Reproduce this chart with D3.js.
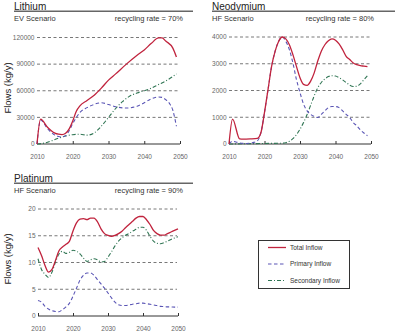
<!DOCTYPE html>
<html>
<head>
<meta charset="utf-8">
<script src="https://cdn.jsdelivr.net/npm/d3@7.9.0/dist/d3.min.js"></script>
<style>
  body { margin: 0; background: #fff; }
  svg { display: block; font-family: "Liberation Sans", Arial, Helvetica, sans-serif; }
</style>
</head>
<body>
<svg id="chart" width="402" height="334"></svg>
<script>
// ---- data ----
const decadeTicks = [2010, 2020, 2030, 2040, 2050];

// Lithium (kg/y)
const liTotalYears = [2010, 2011, 2013, 2014, 2015, 2016, 2017, 2018, 2019, 2020, 2021, 2022, 2024, 2026, 2028, 2030, 2032, 2035, 2038, 2040, 2042, 2044, 2045, 2046, 2048, 2049];
const liTotal = [0, 28000, 18600, 15000, 12300, 11000, 10500, 12000, 17000, 26000, 37000, 43000, 49000, 55000, 63000, 72000, 79000, 90000, 100000, 106000, 113500, 119500, 119500, 116000, 108000, 98000];
const liPrimaryYears = [2010, 2011, 2013, 2015, 2016, 2017, 2018, 2019, 2020, 2021, 2022, 2024, 2026, 2028, 2030, 2032, 2035, 2038, 2040, 2042, 2044, 2045, 2046, 2047, 2048, 2049];
const liPrimary = [0, 27000, 17000, 10000, 8500, 8000, 9500, 15000, 23000, 30000, 35500, 41000, 44700, 46500, 44500, 42000, 40500, 42500, 46500, 51000, 53000, 52500, 50000, 46000, 38000, 20000];
const liSecondaryYears = [2010, 2012, 2014, 2016, 2018, 2020, 2022, 2024, 2026, 2028, 2030, 2032, 2034, 2036, 2038, 2040, 2042, 2044, 2046, 2048, 2049];
const liSecondary = [0, 1000, 3500, 6500, 9000, 10500, 11000, 10000, 12500, 20000, 30000, 40000, 48000, 54000, 57500, 60000, 63000, 67000, 71000, 76000, 79000];
const liYTicks = [0, 30000, 60000, 90000, 120000];

// Neodymium (kg/y)
const ndTotalYears = [2010, 2011, 2013, 2014, 2016, 2018, 2019, 2020, 2021, 2022, 2023, 2024, 2025, 2026, 2027, 2028, 2029, 2030, 2031, 2032, 2033, 2034, 2035, 2036, 2037, 2038, 2039, 2040, 2041, 2042, 2043, 2044, 2045, 2046, 2047, 2048, 2049];
const ndTotal = [0, 930, 190, 180, 190, 210, 430, 1180, 2040, 2900, 3470, 3840, 4000, 3930, 3710, 3340, 2900, 2480, 2230, 2190, 2350, 2660, 3100, 3470, 3710, 3860, 3930, 3880, 3740, 3530, 3280, 3160, 3030, 2970, 2930, 2910, 2890];
const ndPrimaryYears = [2010, 2011, 2013, 2015, 2017, 2018, 2019, 2020, 2021, 2022, 2023, 2024, 2025, 2026, 2027, 2028, 2029, 2030, 2031, 2032, 2033, 2034, 2035, 2036, 2037, 2038, 2039, 2040, 2041, 2042, 2043, 2044, 2045, 2046, 2047, 2048, 2049];
const ndPrimary = [0, 100, 40, 20, 60, 120, 430, 1180, 2040, 2900, 3470, 3840, 4000, 3840, 3530, 3030, 2410, 1920, 1490, 1240, 1110, 1030, 990, 1110, 1240, 1360, 1400, 1400, 1360, 1240, 1110, 990, 800, 680, 530, 410, 310];
const ndSecondaryYears = [2010, 2015, 2020, 2025, 2026, 2027, 2028, 2029, 2030, 2031, 2032, 2033, 2034, 2035, 2036, 2037, 2038, 2039, 2040, 2041, 2042, 2043, 2044, 2045, 2046, 2047, 2048, 2049];
const ndSecondary = [0, 10, 20, 30, 50, 100, 200, 350, 550, 800, 1100, 1450, 1800, 2100, 2300, 2430, 2520, 2550, 2540, 2480, 2400, 2300, 2200, 2150, 2160, 2250, 2400, 2550];
const ndYTicks = [0, 1000, 2000, 3000, 4000];

// Platinum (kg/y), one value per year 2010..2050
const ptYears = d3.range(2010, 2051);
const ptTotal = [12.8, 11.3, 9.45, 8.2, 8.7, 10.4, 12.2, 12.9, 13.4, 14.0,
  15.9, 17.4, 18.1, 18.2, 18.0, 18.3, 18.3, 17.6, 16.3, 15.4,
  15.06, 14.9, 15.06, 15.4, 15.85, 16.5, 17.1, 17.7, 18.3, 18.6,
  18.6, 18.0, 17.1, 16.0, 15.4, 15.1, 15.1, 15.4, 15.7, 16.0, 16.3];
const ptPrimary = [2.9, 2.6, 1.8, 1.3, 1.0, 0.85, 0.8, 1.2, 1.7, 2.4,
  3.7, 5.2, 6.7, 7.6, 8.05, 8.05, 7.6, 6.8, 6.0, 5.2,
  4.3, 3.4, 2.6, 2.1, 1.95, 1.95, 2.07, 2.2, 2.3, 2.4,
  2.4, 2.3, 2.2, 2.07, 1.95, 1.8, 1.77, 1.7, 1.7, 1.65, 1.65];
const ptSecondary = [10.7, 8.7, 7.8, 7.2, 8.2, 10.1, 11.6, 12.1, 11.7, 11.9,
  12.3, 12.1, 11.6, 10.8, 10.2, 10.5, 10.7, 10.5, 10.1, 10.2,
  11.0, 12.0, 13.1, 14.0, 14.6, 15.1, 15.4, 15.85, 16.2, 16.6,
  16.6, 16.0, 14.9, 14.0, 13.6, 13.5, 13.7, 14.0, 14.3, 14.6, 14.8];
const ptYTicks = [0, 5, 10, 15, 20];

const legendLabels = ["Total Inflow", "Primary Inflow", "Secondary Inflow"];

// ---- styles ----
const seriesStyle = [
  { color: "#c0233d", width: 1.3, dash: null },
  { color: "#5a55b5", width: 1.1, dash: "3.5,2.5" },
  { color: "#2f7553", width: 1.1, dash: "4,2,1,2" }
];

const svg = d3.select("#chart");

function drawPanel(p) {
  const g = svg.append("g");
  const x = d3.scaleLinear().domain([2010, 2050]).range([p.x0, p.x1]);
  const y = d3.scaleLinear().domain([0, p.yTicks[p.yTicks.length - 1]]).range([p.y0, p.y1]);

  // header
  g.append("text").attr("x", p.hx0).attr("y", p.top + 2.5).attr("font-size", 10).attr("fill", "#222").text(p.title);
  g.append("line").attr("x1", p.hx0).attr("x2", p.hx1).attr("y1", p.top + 4.2).attr("y2", p.top + 4.2)
    .attr("stroke", "#666").attr("stroke-width", 1.6);
  g.append("text").attr("x", p.hx0).attr("y", p.top + 13.5).attr("font-size", 7.5).attr("fill", "#333").text(p.scenario);
  g.append("text").attr("x", p.rateX).attr("y", p.top + 13.5).attr("font-size", 7.5).attr("fill", "#333")
    .attr("text-anchor", "end").text(p.rate);

  // gridlines
  g.selectAll(".grid").data(p.yTicks.filter(d => d > 0)).join("line")
    .attr("x1", p.x0).attr("x2", p.x1 - 1)
    .attr("y1", d => y(d)).attr("y2", d => y(d))
    .attr("stroke", "#555").attr("stroke-width", 0.8).attr("stroke-dasharray", "3,2.5");

  g.selectAll(".ylab").data(p.yTicks).join("text")
    .attr("x", p.x0 - 2.5).attr("y", d => y(d)).attr("dy", "0.35em")
    .attr("text-anchor", "end").attr("font-size", 6.5).attr("fill", "#666")
    .text(d => d);

  // x axis
  const ax = g.append("g").attr("transform", `translate(0,${p.y0})`)
    .call(d3.axisBottom(x).tickValues(decadeTicks).tickFormat(d3.format("d")).tickSize(-3).tickPadding(10.5));
  ax.select(".domain").attr("stroke", "#333").attr("d", `M${p.x0},0H${p.x1}`);
  ax.selectAll(".tick line").attr("stroke", "#333");
  ax.selectAll(".tick text").attr("font-size", 6.5).attr("fill", "#666").attr("font-family", null);

  if (p.ylabel) {
    g.append("text").attr("transform", `translate(11,${p.ylabelY}) rotate(-90)`)
      .attr("text-anchor", "middle").attr("font-size", 9.5).attr("fill", "#222").text("Flows (kg/y)");
  }

  const line = d3.line().x(d => x(d[0])).y(d => y(d[1])).curve(d3.curveMonotoneX);
  // draw secondary, primary, then total on top
  [2, 1, 0].forEach(i => {
    const s = p.series[i];
    g.append("path").datum(d3.zip(s[0], s[1]))
      .attr("d", line).attr("fill", "none")
      .attr("stroke", seriesStyle[i].color).attr("stroke-width", seriesStyle[i].width)
      .attr("stroke-dasharray", seriesStyle[i].dash);
  });
}

drawPanel({
  title: "Lithium", scenario: "EV Scenario", rate: "recycling rate = 70%",
  top: 7, hx0: 14, hx1: 193, rateX: 183,
  x0: 37, x1: 180, y0: 144, y1: 37.5, yTicks: liYTicks, ylabel: true, ylabelY: 88,
  series: [[liTotalYears, liTotal], [liPrimaryYears, liPrimary], [liSecondaryYears, liSecondary]]
});

drawPanel({
  title: "Neodymium", scenario: "HF Scenario", rate: "recycling rate = 80%",
  top: 7, hx0: 212, hx1: 395, rateX: 374,
  x0: 229, x1: 371, y0: 144, y1: 37, yTicks: ndYTicks, ylabel: false,
  series: [[ndTotalYears, ndTotal], [ndPrimaryYears, ndPrimary], [ndSecondaryYears, ndSecondary]]
});

drawPanel({
  title: "Platinum", scenario: "HF Scenario", rate: "recycling rate = 90%",
  top: 179, hx0: 14, hx1: 193, rateX: 183,
  x0: 38, x1: 178, y0: 316, y1: 209, yTicks: ptYTicks, ylabel: true, ylabelY: 259,
  series: [[ptYears, ptTotal], [ptYears, ptPrimary], [ptYears, ptSecondary]]
});

// legend
const lg = svg.append("g");
lg.append("rect").attr("x", 258.5).attr("y", 240.5).attr("width", 91).attr("height", 48)
  .attr("fill", "#fff").attr("stroke", "#333").attr("stroke-width", 1);
legendLabels.forEach((label, i) => {
  const ly = 247.5 + i * 16.5;
  lg.append("line").attr("x1", 268).attr("x2", 286).attr("y1", ly).attr("y2", ly)
    .attr("stroke", seriesStyle[i].color).attr("stroke-width", seriesStyle[i].width)
    .attr("stroke-dasharray", seriesStyle[i].dash);
  lg.append("text").attr("x", 290).attr("y", ly).attr("dy", "0.35em")
    .attr("font-size", 6.5).attr("fill", "#333").text(label);
});
</script>
</body>
</html>
